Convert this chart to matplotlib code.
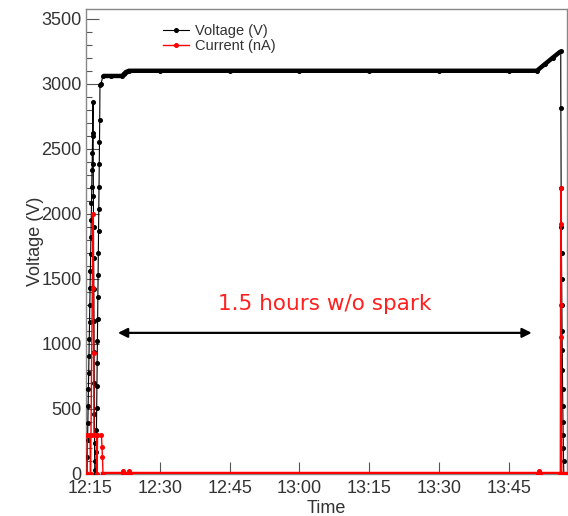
import numpy as np
import matplotlib
matplotlib.use("Agg")
import matplotlib.pyplot as plt
from matplotlib.ticker import MultipleLocator, FuncFormatter

plt.rcParams['font.family'] = ['Liberation Sans', 'DejaVu Sans']

# time in minutes after 12:00
volt_t = [14.36, 14.42, 14.48, 14.54, 14.60, 14.66, 14.72, 14.78, 14.84, 14.90,
          14.96, 15.02, 15.08, 15.14, 15.20, 15.26, 15.32, 15.38, 15.44, 15.50,
          15.56, 15.64,
          15.67, 15.70, 15.73, 15.76, 15.79, 15.82, 15.85, 15.88, 15.91, 15.94,
          15.97, 16.00, 16.03, 16.07,
          16.29, 16.34, 16.39, 16.44, 16.49, 16.54, 16.59, 16.64, 16.69, 16.74,
          16.79, 16.84, 16.89, 16.94, 16.99, 17.04, 17.09, 17.14, 17.36, 17.79,
          19.5, 21.86, 22.29, 22.71, 23.36, 30.0, 45.0, 60.0, 75.0, 90.0, 105.0, 111.0,
          112.7, 114.4, 116.14,
          116.16, 116.22, 116.26, 116.30, 116.34, 116.38, 116.42, 116.46, 116.50,
          116.54, 116.58, 116.62, 116.66, 116.70, 116.74, 116.80]
volt_v = [0, 130, 260, 390, 520, 650, 780, 910, 1040, 1170,
          1300, 1430, 1560, 1690, 1820, 1950, 2080, 2210, 2340, 2470,
          2600, 2860,
          2620, 2380, 2140, 1900, 1660, 1420, 1180, 940, 700, 460,
          240, 100, 30, 0,
          0, 170, 340, 510, 680, 850, 1020, 1190, 1360, 1530,
          1700, 1870, 2040, 2210, 2380, 2550, 2720, 2990, 3000, 3060,
          3060, 3060, 3075, 3090, 3100, 3100, 3100, 3100, 3100, 3100, 3100, 3100,
          3150, 3200, 3250,
          2815, 2200, 1900, 1700, 1500, 1300, 1100, 950, 800,
          650, 520, 400, 300, 200, 100, 0]

curr_t = [14.14, 14.36, 14.42, 15.00, 15.11, 15.21, 15.64, 15.75, 15.79, 15.86,
          16.50, 16.54, 16.61, 17.46, 17.57, 17.68, 17.79,
          22.07, 22.18, 22.29, 23.14, 23.36, 23.57,
          111.2, 111.43, 111.64, 116.04, 116.14, 116.21, 116.25, 116.27, 116.36, 117.4]
curr_i = [0, 0, 300, 300, 0, 300, 2000, 1430, 930, 300,
          300, 0, 300, 300, 210, 130, 0,
          0, 20, 0, 0, 20, 0,
          0, 25, 0, 0, 2200, 1920, 1300, 1050, 0, 0]

xtick_min = [15, 30, 45, 60, 75, 90, 105]

volt_t = np.array(volt_t)
volt_v = np.array(volt_v, dtype=float)
curr_t = np.array(curr_t)
curr_i = np.array(curr_i, dtype=float)

fig = plt.figure(figsize=(5.68, 5.16), dpi=100)
ax = fig.add_axes([0.1514, 0.0814, 0.847, 0.9012])

tc = '#333333'

# voltage
ax.plot(volt_t, volt_v, color='black', lw=0.8, marker='o', ms=2.6, mec='black',
        label='Voltage (V)', zorder=3)
plateau = np.ma.masked_where(volt_v < 3050, volt_v)
ax.plot(volt_t, plateau, color='black', lw=3.2, solid_capstyle='butt', zorder=3)

# current
ax.plot(curr_t, curr_i, color='red', lw=1.0, marker='o', ms=2.6, mec='red',
        label='Current (nA)', zorder=4)
base = np.ma.masked_where(curr_i > 0, curr_i)
ax.plot(curr_t, base, color='red', lw=3.2, zorder=4)

ax.set_xlim(14.14, 117.5)
ax.set_ylim(0, 3575)

ax.set_xticks(xtick_min)
ax.xaxis.set_major_formatter(FuncFormatter(lambda m, p: f"{12 + int(m) // 60}:{int(m) % 60:02d}"))
ax.yaxis.set_major_locator(MultipleLocator(500))
ax.yaxis.set_minor_locator(MultipleLocator(100))

ax.tick_params(axis='y', which='major', direction='in', length=9, width=0.8,
               color='#555555', labelsize=13, labelcolor=tc, pad=3)
ax.tick_params(axis='y', which='minor', direction='in', length=4.5, width=0.8,
               color='#555555')
ax.tick_params(axis='x', which='major', direction='in', length=8.5, width=0.8,
               color='#555555', labelsize=13, labelcolor=tc, pad=4)

for s in ax.spines.values():
    s.set_color('#888888')
    s.set_linewidth(1.0)

ax.set_ylabel('Voltage (V)', fontsize=13, color=tc)
ax.yaxis.set_label_coords(-0.088, 0.5)
ax.set_xlabel('Time', fontsize=13, color=tc)
ax.xaxis.set_label_coords(0.5, -0.055)

ax.legend(loc='upper left', bbox_to_anchor=(0.138, 0.99), frameon=False,
          fontsize=10.5, handlelength=1.8, handletextpad=0.45, labelspacing=0.1,
          borderpad=0.2, labelcolor=tc)

ax.annotate('', xy=(21.0, 1085), xytext=(109.9, 1085),
            arrowprops=dict(arrowstyle='<|-|>', color='black', lw=1.6,
                            mutation_scale=14, shrinkA=0, shrinkB=0))
ax.text(65.4, 1305, '1.5 hours w/o spark', color='#ff2020', fontsize=15.5,
        ha='center', va='center', family='DejaVu Sans')

fig.savefig('out.png', dpi=100)
